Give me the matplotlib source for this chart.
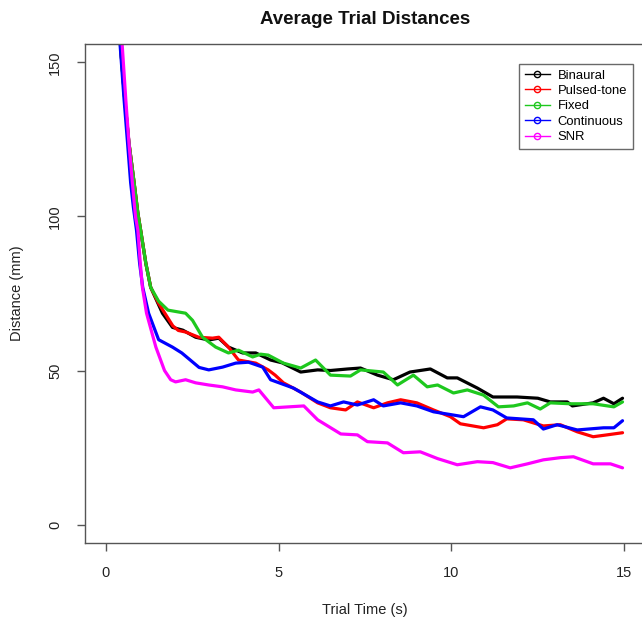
import matplotlib
matplotlib.use("Agg")
import matplotlib.pyplot as plt
from matplotlib.lines import Line2D

plt.rcParams["font.family"] = ["Liberation Sans", "DejaVu Sans"]

# trial time (s) / mean distance (mm), per condition
binaural_t = [0.3, 0.43, 0.55, 0.67, 0.82, 0.93, 1.01, 1.16, 1.3, 1.64, 1.93, 2.23, 2.6,
              2.98, 3.27, 3.55, 3.96, 4.34, 4.77, 5.1, 5.64, 6.13, 6.5, 7.0, 7.37, 7.86,
              8.32, 8.8, 9.39, 9.88, 10.17, 10.75, 11.2, 11.9, 12.5, 12.86, 13.35, 13.5,
              14.1, 14.4, 14.7, 14.95]
binaural_d = [185, 155, 138, 124, 111, 101, 95.5, 84.8, 77, 68.6, 64, 63.1, 60.8,
              59.9, 60.5, 57.6, 55.7, 55.7, 53.4, 52.5, 49.5, 50.2, 50.0, 50.5, 50.8, 48.5,
              47, 49.5, 50.5, 47.6, 47.6, 44.3, 41.4, 41.4, 41, 39.8, 39.8, 38.5,
              39.5, 41, 39.2, 41]

pulsed_t = [0.3, 0.43, 0.55, 0.67, 0.82, 0.93, 1.01, 1.16, 1.3, 1.53, 1.94, 2.1, 2.31, 2.69,
            3.09, 3.27, 3.55, 3.84, 4.34, 4.7, 4.9, 5.14, 5.64, 6.13, 6.5, 6.94, 7.28,
            7.75, 8.15, 8.53, 9.0, 9.48, 9.97, 10.26, 10.93, 11.33, 11.6, 12.08, 12.66,
            13.15, 13.64, 14.1, 14.5, 14.95]
pulsed_d = [185, 155, 138, 124, 111, 101, 95.5, 84.8, 77, 71.8, 64.5, 63, 62.5, 60.8,
            60.5, 60.8, 57.6, 53.4, 52.4, 50.2, 48.5, 46, 43, 39.5, 37.9, 37.2, 39.8,
            37.9, 39.5, 40.5, 39.5, 37.2, 35, 32.7, 31.4, 32.4, 34.3, 34, 32,
            32.4, 30.1, 28.5, 29.1, 29.8]

fixed_t = [0.3, 0.43, 0.55, 0.67, 0.82, 0.93, 1.01, 1.16, 1.3, 1.53, 1.8, 2.31, 2.51, 2.8,
           3.18, 3.55, 3.84, 4.25, 4.48, 4.7, 5.14, 5.64, 6.07, 6.5, 7.08, 7.37, 8.03,
           8.44, 8.9, 9.3, 9.6, 10.06, 10.46, 10.93, 11.36, 11.8, 12.2, 12.57, 12.86,
           13.44, 14.1, 14.7, 14.95]
fixed_d = [185, 155, 138, 124, 111, 101, 95.5, 84.8, 77, 72.5, 69.6, 68.6, 66.3, 60.8,
           57.6, 55.7, 56.6, 54.4, 55.3, 55, 52.4, 50.8, 53.4, 48.5, 48.2, 50.2, 49.5,
           45.3, 48.5, 44.7, 45.3, 42.7, 43.7, 42, 38.2, 38.5, 39.5, 37.5, 39.5,
           39.2, 39.2, 38.2, 39.8]

continuous_t = [0.3, 0.42, 0.53, 0.63, 0.72, 0.8, 0.89, 0.98, 1.07, 1.24, 1.53, 1.93, 2.2,
                2.7, 2.98, 3.38, 3.76, 4.13, 4.54, 4.77, 5.43, 6.13, 6.5, 6.88, 7.28, 7.75,
                8.03, 8.53, 9.0, 9.48, 10.35, 10.84, 11.2, 11.6, 12.37, 12.66, 13.06,
                13.64, 14.4, 14.7, 14.95]
continuous_d = [185, 155, 138, 124, 111, 103, 95.5, 84.8, 77, 68.6, 60, 57.6, 55.7,
                51, 50.2, 51.1, 52.4, 52.7, 51.1, 47, 44.3, 39.8, 38.5, 39.8, 38.8, 40.5,
                38.5, 39.5, 38.5, 36.6, 35, 38.2, 37.2, 34.6, 34, 31, 32.4,
                30.7, 31.4, 31.4, 33.7]

snr_t = [0.32, 0.48, 0.58, 0.67, 0.77, 0.86, 0.93, 1.0, 1.06, 1.18, 1.45, 1.7, 1.88, 2.02,
         2.31, 2.6, 2.98, 3.38, 3.76, 4.25, 4.43, 4.86, 5.73, 6.13, 6.8, 7.28, 7.57,
         8.15, 8.61, 9.1, 9.6, 10.17, 10.75, 11.2, 11.7, 12.2, 12.66, 13.15, 13.53,
         14.1, 14.6, 14.95]
snr_d = [185, 155, 138, 124, 111, 100, 95.5, 84.8, 77, 68.6, 57.6, 50, 47, 46.3,
         47, 46, 45.3, 44.7, 43.7, 43, 43.7, 37.9, 38.5, 34, 29.4, 29.1, 26.9,
         26.5, 23.3, 23.6, 21.4, 19.4, 20.4, 20.1, 18.4, 19.7, 21, 21.7, 22,
         19.7, 19.7, 18.4]

labels = ["Binaural", "Pulsed-tone", "Fixed", "Continuous", "SNR"]
colors = ["#000000", "#ff0000", "#1ec81e", "#0000ff", "#ff00ff"]
series = [(binaural_t, binaural_d), (pulsed_t, pulsed_d), (fixed_t, fixed_d),
          (continuous_t, continuous_d), (snr_t, snr_d)]

W, H = 642, 623
fig = plt.figure(figsize=(W / 100, H / 100), dpi=100)
ax = fig.add_axes([85 / W, 80 / H, 560 / W, 499 / H])

for (t, d), c in zip(series, colors):
    ax.plot(t, d, color=c, lw=2.3, solid_joinstyle="round", solid_capstyle="round")

ax.set_xlim(-0.6, 15.6)
ax.set_ylim(-6, 156)
ax.set_xticks([0, 5, 10, 15])
ax.set_yticks([0, 50, 100, 150])

edge = "#555555"
for s in ax.spines.values():
    s.set_color(edge)
    s.set_linewidth(1.0)
ax.tick_params(direction="out", length=6, width=1, color=edge,
               labelsize=10.5, labelcolor="#222222", pad=10.5)
for lab in ax.get_yticklabels():
    lab.set_rotation(90)
    lab.set_va("center")

fig.text(365 / W, 1 - 19 / H, "Average Trial Distances", ha="center", va="center",
         fontsize=13.5, fontweight="bold", color="#111111")
fig.text(365 / W, 1 - 610 / H, "Trial Time (s)", ha="center", va="center",
         fontsize=10.5, color="#222222")
fig.text(17 / W, 1 - 293 / H, "Distance (mm)", ha="center", va="center",
         rotation=90, fontsize=10.5, color="#222222")

handles = [Line2D([], [], color=c, lw=1, marker="o", ms=4.5, mfc="none", mew=1)
           for c in colors]
leg = ax.legend(handles, labels, loc="upper left",
                bbox_to_anchor=(519 / W, 1 - 63.5 / H), bbox_transform=fig.transFigure,
                fontsize=9.4, frameon=True, fancybox=False, handlelength=1.9,
                handletextpad=0.6, labelspacing=0.25, borderpad=0.45, borderaxespad=0)
leg.get_frame().set_edgecolor("#444444")
leg.get_frame().set_linewidth(1.0)

fig.savefig("out.png", dpi=100)
